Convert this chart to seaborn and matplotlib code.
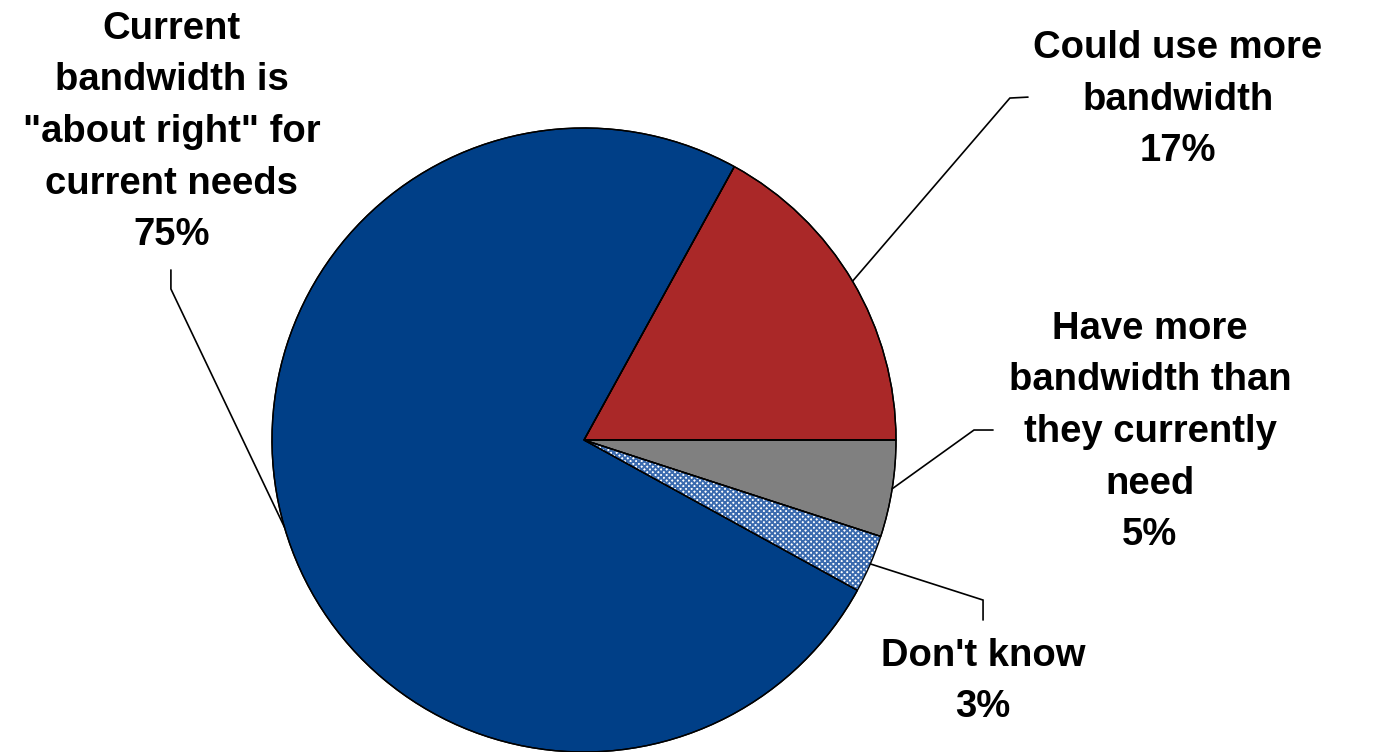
import numpy as np
import matplotlib
matplotlib.use("Agg")
import matplotlib.pyplot as plt
import seaborn as sns

# ---- data ----
categories = ["Could use more\nbandwidth",
              "Current\nbandwidth is\n\"about right\" for\ncurrent needs",
              "Don't know",
              "Have more\nbandwidth than\nthey currently\nneed"]
values = [17, 75, 3, 5]

# ---- style ----
colors = ["#AA2828", "#003F87", "#FFFFFF", "#808080"]
hatch_color = "#3A6AAE"

# label text centres (data units, pie radius = 1)
label_xy = [(1.904, 1.091), (-1.321, 0.987), (1.279, -0.774), (1.814, 0.026)]
# leader line elbow and end points
leader_elbow = [(1.365, 1.096), (-1.324, 0.484), (1.279, -0.513), (1.25, 0.032)]
leader_end = [(1.423, 1.099), (-1.324, 0.545), (1.279, -0.577), (1.311, 0.032)]

sns.set_theme(style="white")
plt.rcParams["font.family"] = ["Liberation Sans", "DejaVu Sans"]
plt.rcParams["hatch.linewidth"] = 1.4

fig = plt.figure(figsize=(13.76, 7.52), dpi=100)
ax = fig.add_axes([0, 0, 1, 1])
ax.set_axis_off()

wedges, _ = ax.pie(values, colors=colors, startangle=0, counterclock=True,
                   radius=1.0, center=(0, 0),
                   wedgeprops=dict(edgecolor="black", linewidth=1.0))
# hatched "Don't know" slice
w = wedges[2]
w.set_hatch("xxxxxx")
w.set_edgecolor(hatch_color)
w.set_linewidth(0)
# black outlines on top
outl, _ = ax.pie(values, startangle=0, counterclock=True, radius=1.0,
                 center=(0, 0),
                 wedgeprops=dict(fill=False, edgecolor="black", linewidth=1.0))

for i, (wd, cat, v) in enumerate(zip(wedges, categories, values)):
    mid = np.deg2rad((wd.theta1 + wd.theta2) / 2)
    ax_pt = (np.cos(mid), np.sin(mid))
    ex, ey = leader_elbow[i]
    nx, ny = leader_end[i]
    ax.plot([ax_pt[0], ex, nx], [ax_pt[1], ey, ny], color="black", lw=1.2,
            solid_joinstyle="miter")
    ax.text(label_xy[i][0], label_xy[i][1], f"{cat}\n{v}%", ha="center",
            va="center", fontsize=27.5, fontweight="bold", color="black",
            linespacing=1.56, multialignment="center")

ax.set_xlim(-584 / 312, (1376 - 584) / 312)
ax.set_ylim(-1.0, 440 / 312)
ax.set_aspect("equal")

fig.savefig("out.png", dpi=100, facecolor="white")
